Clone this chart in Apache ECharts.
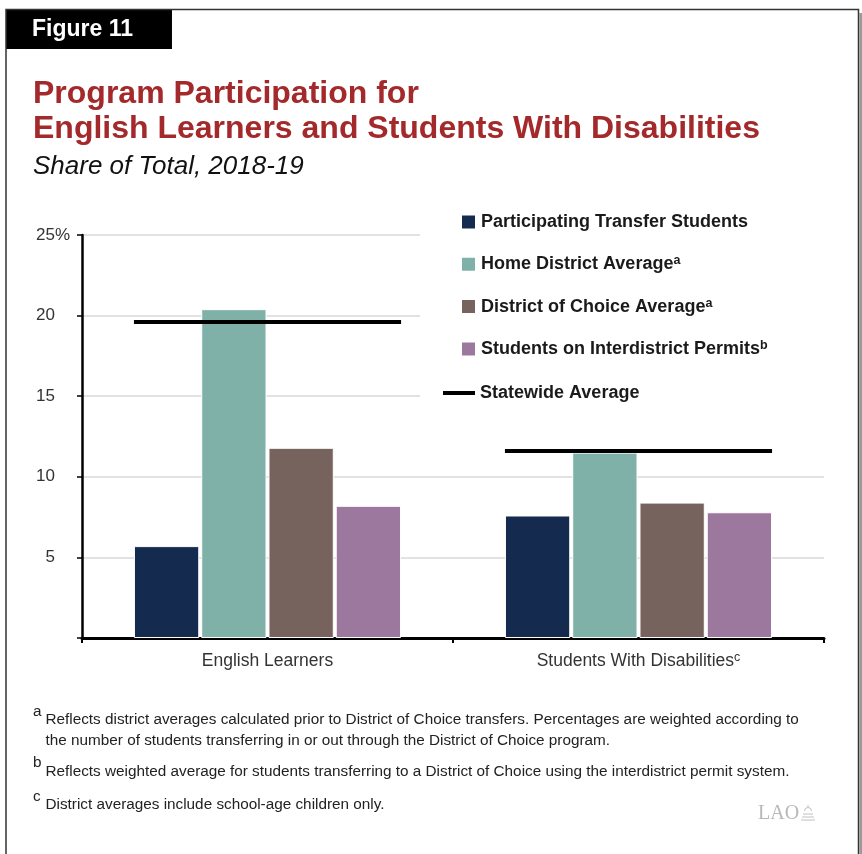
<!DOCTYPE html>
<html><head><meta charset="utf-8">
<script src="https://cdn.jsdelivr.net/npm/echarts@6/dist/echarts.min.js"></script>
<style>html,body{margin:0;padding:0;background:#fff}#c{width:862px;height:854px}</style>
</head><body><div id="c"></div>
<script>
const categories = ['English Learners', 'Students With Disabilities'];
const categoryNotes = ['', 'c'];
const seriesNames = ['Participating Transfer Students', 'Home District Average', 'District of Choice Average', 'Students on Interdistrict Permits'];
const seriesNotes = ['', 'a', 'a', 'b'];
const participatingTransfer = [5.7, 7.6];
const homeDistrictAvg = [20.4, 11.5];
const districtOfChoiceAvg = [11.8, 8.4];
const interdistrictPermits = [8.2, 7.8];
const statewideName = 'Statewide Average';
const statewideAvg = [19.6, 11.6];
const yTicks = [0, 5, 10, 15, 20, 25];
const footnoteA = ['Reflects district averages calculated prior to District of Choice transfers. Percentages are weighted according to',
                   'the number of students transferring in or out through the District of Choice program.'];
const footnoteB = 'Reflects weighted average for students transferring to a District of Choice using the interdistrict permit system.';
const footnoteC = 'District averages include school-age children only.';

const FONT = 'Liberation Sans, Arial, Helvetica, sans-serif';
const colors = ['#142b4f', '#80b1a9', '#77635d', '#9c789f'];
const seriesValues = [participatingTransfer, homeDistrictAvg, districtOfChoiceAvg, interdistrictPermits];
const CAT_GAP = 0.28;

const chart = echarts.init(document.getElementById('c'), null, {renderer: 'canvas'});

const barSeries = seriesNames.map((n, i) => ({
  name: n, type: 'bar', data: seriesValues[i],
  barCategoryGap: (CAT_GAP * 100) + '%', barGap: '3%',
  itemStyle: {color: colors[i], borderColor: '#fff', borderWidth: 1},
  z: 2
}));

const lineSeries = {
  name: statewideName, type: 'custom', z: 5,
  itemStyle: {color: '#000'},
  data: statewideAvg.map((v, i) => [i, v]),
  encode: {x: 0, y: 1},
  renderItem: function (params, api) {
    const c = api.coord([api.value(0), api.value(1)]);
    const band = api.size([1, 0])[0];
    const half = band * (1 - CAT_GAP) / 2;
    return {type: 'line', shape: {x1: c[0] - half, y1: c[1], x2: c[0] + half, y2: c[1]},
            style: {stroke: '#000', lineWidth: 4, lineCap: 'butt'}};
  }
};

function txt(text, x, y, size, extra) {
  return {type: 'text', silent: true, style: Object.assign({text: text, x: x, y: y, font: size + 'px ' + FONT, fill: '#222', verticalAlign: 'middle'}, extra || {})};
}

const FN = 15.3;

const option = {
  animation: false,
  backgroundColor: '#fff',
  title: [
    {text: 'Figure 11', left: 6, top: 10, padding: [6, 39, 6, 26], backgroundColor: '#000',
     textStyle: {color: '#fff', fontSize: 23, fontWeight: 'bold', fontFamily: FONT, lineHeight: 27}},
    {text: 'Program Participation for\nEnglish Learners and Students With Disabilities', left: 33, top: 76.5, padding: 0,
     textStyle: {color: '#a3292b', fontSize: 32, fontWeight: 'bold', fontFamily: FONT, lineHeight: 35}},
    {text: 'Share of Total, 2018-19', left: 33, top: 152, padding: 0,
     textStyle: {color: '#111', fontSize: 26, fontStyle: 'italic', fontWeight: 'normal', fontFamily: FONT, lineHeight: 30}}
  ],
  legend: [
    {data: seriesNames, orient: 'vertical', left: 420, top: 202, padding: [10, 70, 10, 40],
     itemWidth: 15, itemHeight: 15, itemGap: 22.3, icon: 'rect', backgroundColor: '#fff', selectedMode: false,
     formatter: function (name) { const k = seriesNames.indexOf(name); return seriesNotes[k] ? name + '{sup|' + seriesNotes[k] + '}' : name; },
     textStyle: {fontSize: 18, fontWeight: 'bold', color: '#1a1a1a', fontFamily: FONT, lineHeight: 20,
       rich: {sup: {fontSize: 12.5, fontWeight: 'bold', color: '#1a1a1a', fontFamily: FONT, lineHeight: 8, verticalAlign: 'top'}}}},
    {data: [statewideName], orient: 'vertical', left: 420, top: 373, padding: [10, 210, 10, 23],
     itemWidth: 32, itemHeight: 4, icon: 'rect', backgroundColor: '#fff', selectedMode: false,
     textStyle: {fontSize: 18, fontWeight: 'bold', color: '#1a1a1a', fontFamily: FONT, lineHeight: 20}}
  ],
  grid: {left: 82, right: 38, top: 235, bottom: 216, containLabel: false, outerBoundsMode: 'none'},
  xAxis: {
    type: 'category', data: categories,
    axisLine: {lineStyle: {color: '#000', width: 3}},
    axisTick: {show: true, length: 5, interval: 0, lineStyle: {color: '#000', width: 2}},
    axisLabel: {fontSize: 17.5, color: '#333', fontFamily: FONT, margin: 13, lineHeight: 20, interval: 0,
      formatter: function (v, i) { return categoryNotes[i] ? v + '{sup|' + categoryNotes[i] + '}' : v; },
      rich: {sup: {fontSize: 12.5, color: '#333', fontFamily: FONT, lineHeight: 8, verticalAlign: 'top'}}}
  },
  yAxis: {
    type: 'value', min: yTicks[0], max: yTicks[yTicks.length - 1], interval: yTicks[1] - yTicks[0],
    axisLine: {show: true, lineStyle: {color: '#000', width: 2.5}},
    axisTick: {show: true, length: 5, lineStyle: {color: '#000', width: 1.5}},
    splitLine: {show: true, lineStyle: {color: '#d8d8d8', width: 1.5}},
    axisLabel: {fontSize: 17, color: '#333', fontFamily: FONT, margin: 12, align: 'right',
      formatter: function (v) { if (v === yTicks[0]) return ''; return v + (v === yTicks[yTicks.length - 1] ? '{p|%}' : '{h|%}'); },
      rich: {p: {fontSize: 17, color: '#333', fontFamily: FONT}, h: {fontSize: 17, color: 'rgba(0,0,0,0)', fontFamily: FONT}}}
  },
  series: barSeries.concat([lineSeries]),
  graphic: [
    {type: 'rect', silent: true, z: 100, shape: {x: 6, y: 9.5, width: 852.5, height: 860}, style: {fill: 'none', stroke: '#333', lineWidth: 1.5}},
    {type: 'rect', silent: true, z: 99, shape: {x: 859.5, y: 13, width: 2.5, height: 845}, style: {fill: '#9a9a9a'}},
    txt('a', 33, 712, FN),
    txt(footnoteA[0], 45.5, 720, FN),
    txt(footnoteA[1], 45.5, 741, FN),
    txt('b', 33, 763, FN),
    txt(footnoteB, 45.5, 772, FN),
    txt('c', 33, 797, FN),
    txt(footnoteC, 45.5, 805, FN),
    {type: 'text', silent: true, style: {text: 'LAO', x: 758, y: 814, font: '20px Liberation Serif, Times New Roman, serif', fill: '#b8b8b8', verticalAlign: 'middle'}},
    {type: 'group', silent: true, children: [
      {type: 'line', shape: {x1: 801, y1: 820, x2: 815, y2: 820}, style: {stroke: '#c0c0c0', lineWidth: 1}},
      {type: 'line', shape: {x1: 802, y1: 817, x2: 814, y2: 817}, style: {stroke: '#c0c0c0', lineWidth: 1}},
      {type: 'line', shape: {x1: 803, y1: 814, x2: 813, y2: 814}, style: {stroke: '#c0c0c0', lineWidth: 1}},
      {type: 'arc', shape: {cx: 808, cy: 811, r: 3.5, startAngle: Math.PI, endAngle: 2 * Math.PI}, style: {stroke: '#c0c0c0', fill: 'none', lineWidth: 1}},
      {type: 'line', shape: {x1: 808, y1: 807.5, x2: 808, y2: 805}, style: {stroke: '#c0c0c0', lineWidth: 1}}
    ]}
  ]
};
chart.setOption(option);
</script>
</body></html>
